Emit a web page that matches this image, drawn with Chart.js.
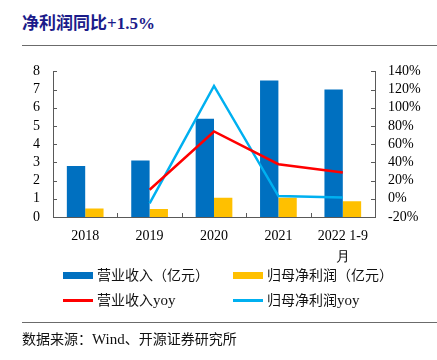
<!DOCTYPE html>
<html lang="zh">
<head>
    <meta charset="UTF-8">
    <title>净利润同比</title>
    <style>
        body {
            margin: 0;
            padding: 0;
            background: #fff;
            width: 437px;
            height: 360px;
            position: relative;
            overflow: hidden;
            font-family: 'Noto Sans CJK SC', 'Noto Sans', sans-serif;
        }
        .title {
            position: absolute;
            left: 22px;
            top: 9px;
            font-size: 17px;
            font-weight: bold;
            color: #1b1b8a;
            white-space: nowrap;
        }
        .title .num {
            font-family: 'Liberation Serif', serif;
        }
        .rule {
            position: absolute;
            left: 22px;
            right: 0;
            height: 0;
            border-top: 1.5px solid #6b6b6b;
        }
        .chart-box {
            position: absolute;
            left: 0;
            top: 50px;
            width: 437px;
            height: 225px;
        }
        .legend {
            position: absolute;
            font-size: 14px;
            color: #111;
            white-space: nowrap;
        }
        .legend .sw {
            position: absolute;
            left: 0;
            width: 30px;
        }
        .legend span.txt {
            position: absolute;
            left: 34px;
            top: -11px;
        }
        .footer {
            position: absolute;
            left: 22px;
            top: 328px;
            font-size: 14px;
            color: #111;
            white-space: nowrap;
        }
        .footer .num {
            font-family: 'Liberation Serif', serif;
            font-size: 15px;
        }
    </style>
    <script src="https://cdn.jsdelivr.net/npm/chart.js"></script>
</head>
<body>
    <div class="title">净利润同比<span class="num">+1.5%</span></div>
    <div class="rule" style="top:45px"></div>

    <div class="chart-box">
        <canvas id="profitChart"></canvas>
    </div>

    <div class="legend" style="left:63px; top:275px">
        <div class="sw" style="background:#0070C0; height:7px; top:-3px"></div>
        <span class="txt">营业收入（亿元）</span>
    </div>
    <div class="legend" style="left:233px; top:275px">
        <div class="sw" style="background:#FFC000; height:7px; top:-3px"></div>
        <span class="txt">归母净利润（亿元）</span>
    </div>
    <div class="legend" style="left:63px; top:300px">
        <div class="sw" style="background:#FF0000; height:3px; top:-1px"></div>
        <span class="txt">营业收入<span style="font-family:'Liberation Serif',serif;font-size:15px">yoy</span></span>
    </div>
    <div class="legend" style="left:233px; top:300px">
        <div class="sw" style="background:#00B0F0; height:3px; top:-1px"></div>
        <span class="txt">归母净利润<span style="font-family:'Liberation Serif',serif;font-size:15px">yoy</span></span>
    </div>

    <div class="rule" style="top:322px"></div>
    <div class="footer">数据来源：<span class="num">Wind</span>、开源证券研究所</div>

    <script>
        // data
        var years = ['2018', '2019', '2020', '2021', ['2022 1-9', '月']];
        var revenue = [2.8, 3.1, 5.4, 7.5, 7.0];          // 亿元
        var netProfit = [0.47, 0.44, 1.06, 1.06, 0.87];  // 亿元
        var revenueYoy = [null, 10, 74, 38, 29];         // %
        var profitYoy = [null, -5, 124, 3, 1.5];         // %

        var serif = "'Liberation Serif', 'Times New Roman', serif";
        var axisColor = '#595959';

        // small tick marks pointing into the plot, like the original
        var innerTicks = {
            id: 'innerTicks',
            afterDatasetsDraw: function(chart) {
                var ctx = chart.ctx;
                var area = chart.chartArea;
                var len = 4;
                ctx.save();
                ctx.strokeStyle = axisColor;
                ctx.lineWidth = 1;
                ctx.beginPath();
                var y = chart.scales.y;
                y.ticks.forEach(function(t, i) {
                    var py = Math.round(y.getPixelForTick(i)) + 0.5;
                    ctx.moveTo(area.left, py);
                    ctx.lineTo(area.left + len, py);
                });
                var y1 = chart.scales.y1;
                y1.ticks.forEach(function(t, i) {
                    var py = Math.round(y1.getPixelForTick(i)) + 0.5;
                    ctx.moveTo(area.right, py);
                    ctx.lineTo(area.right - len, py);
                });
                var x = chart.scales.x;
                for (var i = 1; i < x.ticks.length; i++) {
                    var px = Math.round((x.getPixelForTick(i - 1) + x.getPixelForTick(i)) / 2) + 0.5;
                    ctx.moveTo(px, area.bottom);
                    ctx.lineTo(px, area.bottom - len);
                }
                ctx.stroke();
                ctx.restore();
            }
        };

        var ctx = document.getElementById('profitChart').getContext('2d');
        var profitChart = new Chart(ctx, {
            data: {
                labels: years,
                datasets: [
                    {
                        type: 'line',
                        label: '营业收入yoy',
                        data: revenueYoy,
                        yAxisID: 'y1',
                        borderColor: '#FF0000',
                        borderWidth: 2.5,
                        pointRadius: 0,
                        tension: 0,
                        order: 0
                    },
                    {
                        type: 'line',
                        label: '归母净利润yoy',
                        data: profitYoy,
                        yAxisID: 'y1',
                        borderColor: '#00B0F0',
                        borderWidth: 2.5,
                        pointRadius: 0,
                        tension: 0,
                        order: 0
                    },
                    {
                        type: 'bar',
                        label: '营业收入（亿元）',
                        data: revenue,
                        yAxisID: 'y',
                        backgroundColor: '#0070C0',
                        categoryPercentage: 0.57,
                        barPercentage: 1,
                        order: 1
                    },
                    {
                        type: 'bar',
                        label: '归母净利润（亿元）',
                        data: netProfit,
                        yAxisID: 'y',
                        backgroundColor: '#FFC000',
                        categoryPercentage: 0.57,
                        barPercentage: 1,
                        order: 1
                    }
                ]
            },
            options: {
                responsive: true,
                maintainAspectRatio: false,
                animation: false,
                layout: {
                    padding: { top: 11, left: 0, right: 0, bottom: 0 }
                },
                plugins: {
                    legend: { display: false },
                    tooltip: { enabled: false }
                },
                scales: {
                    x: {
                        grid: { display: false, drawTicks: false },
                        border: { display: true, color: axisColor, width: 1 },
                        ticks: {
                            color: '#000',
                            font: { family: serif, size: 14, lineHeight: 1.5 },
                            padding: 9,
                            maxRotation: 0,
                            autoSkip: false,
                            callback: function(value) { return years[value]; }
                        },
                        afterFit: function(scale) { scale.height = 58; }
                    },
                    y: {
                        position: 'left',
                        min: 0,
                        max: 8,
                        grid: { display: false, drawTicks: false },
                        border: { display: true, color: axisColor, width: 1 },
                        ticks: {
                            stepSize: 1,
                            autoSkip: false,
                            color: '#000',
                            font: { family: serif, size: 14 },
                            padding: 13
                        },
                        afterFit: function(scale) { scale.width = 53; }
                    },
                    y1: {
                        position: 'right',
                        min: -20,
                        max: 140,
                        grid: { display: false, drawTicks: false },
                        border: { display: true, color: axisColor, width: 1 },
                        ticks: {
                            stepSize: 20,
                            autoSkip: false,
                            color: '#000',
                            font: { family: serif, size: 14 },
                            padding: 13,
                            callback: function(v) { return v + '%'; }
                        },
                        afterFit: function(scale) { scale.width = 62; }
                    }
                }
            },
            plugins: [innerTicks]
        });
    </script>
</body>
</html>
